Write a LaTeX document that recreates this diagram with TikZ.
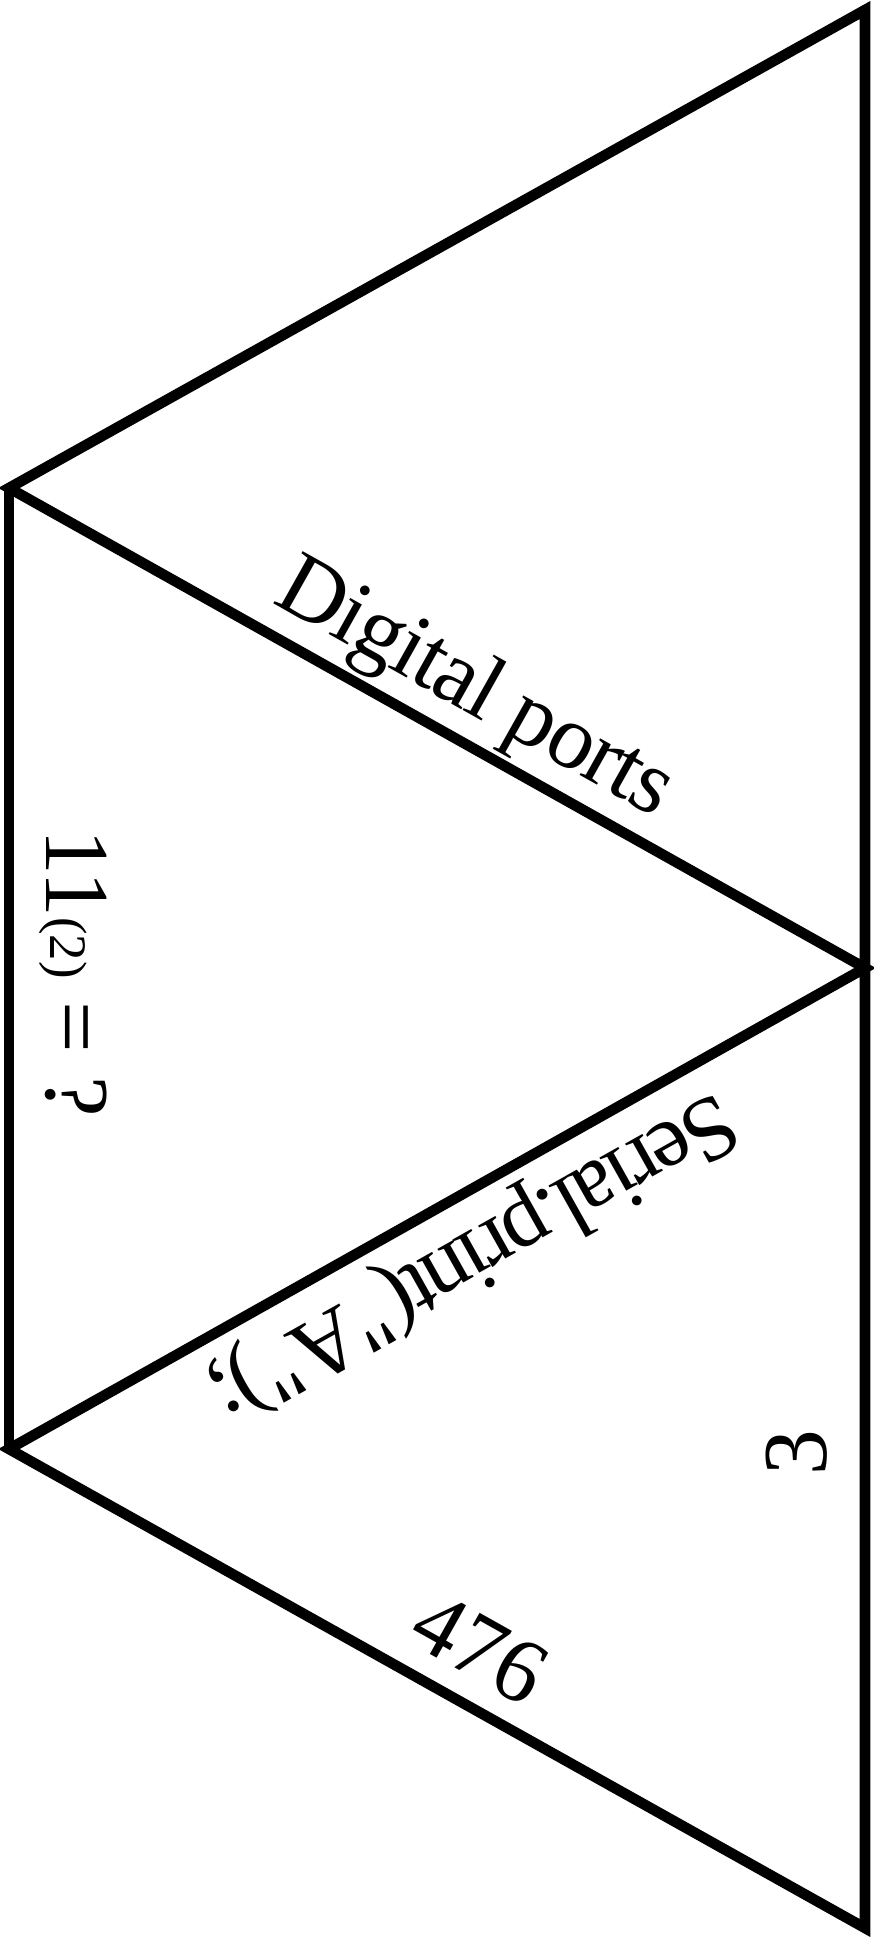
\documentclass[tikz,border=0pt]{standalone}
\usepackage{fontspec}
\setmainfont{Liberation Serif}
\newcommand\dquote{\XeTeXglyph\XeTeXcharglyph"22\relax}

\begin{document}
\begin{tikzpicture}[x=0.01cm,y=0.01cm,line width=3pt,
    lbl/.style={font=\fontsize{26}{30}\selectfont}]
  \useasboundingbox (0,0) rectangle (874,-1939);
  % corners of the strip
  \coordinate (tr) at (865,-10);
  \coordinate (l1) at (9,-488);
  \coordinate (rm) at (865,-968);
  \coordinate (l2) at (9,-1449);
  \coordinate (br) at (865,-1928);
  \draw (tr) -- (l1) -- (rm) -- (l2) -- (br) -- cycle;
  \draw (l1) -- (l2);
  % labels
  \node[lbl,rotate=-29.3] (digital) at (474,-691)
    {\addfontfeatures{LetterSpace=-2}Digital ports};
  \node[lbl,rotate=-90] (binary) at (73,-973)
    {11\raisebox{1pt}{\fontsize{15}{17}\selectfont(2)} = ?};
  \node[lbl,rotate=209.3] (serial) at (472,-1255)
    {\addfontfeatures{LetterSpace=-4}Serial.print(\dquote A\dquote);};
  \node[lbl,rotate=90] (three) at (797,-1453) {3};
  \node[lbl,rotate=-29.3] (count) at (480,-1648) {476};
\end{tikzpicture}
\end{document}
